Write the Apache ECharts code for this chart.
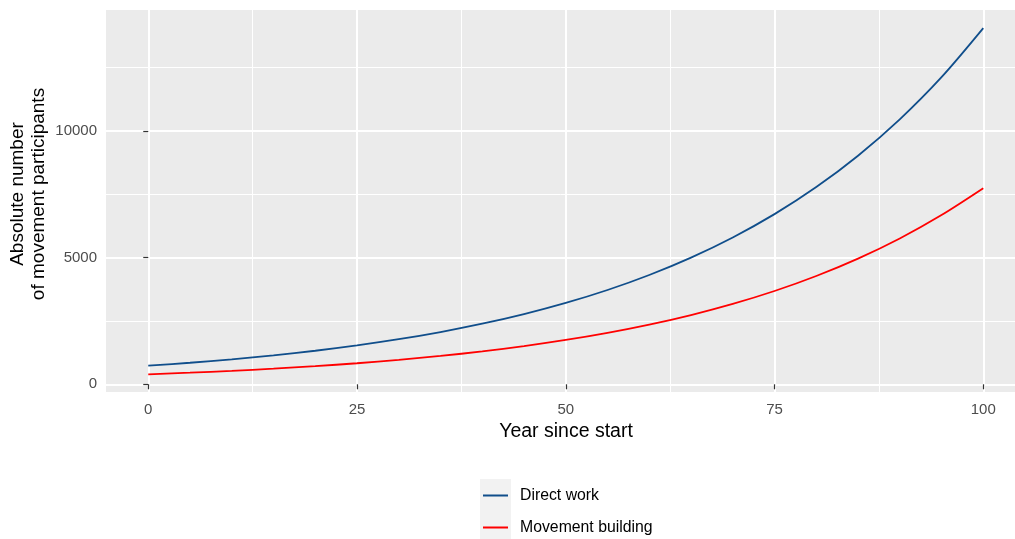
<!DOCTYPE html>
<html>
<head>
<meta charset="utf-8">
<script src="https://cdn.jsdelivr.net/npm/echarts@6/dist/echarts.min.js"></script>
<style>
html,body{margin:0;padding:0;background:#fff;}
#chart{width:1015px;height:539px;}
</style>
</head>
<body>
<div id="chart"></div>
<script>
const years = [0,5,10,15,20,25,30,35,40,45,50,55,60,65,70,75,80,85,90,95,100];
const directWork = [734,851,986,1143,1325,1536,1780,2063,2391,2771,3212,3723,4315,5001,5797,6718,7787,9025,10460,12124,14060];
const movementBuilding = [395,458,532,617,716,831,965,1120,1299,1508,1750,2031,2357,2735,3174,3683,4275,4961,5757,6681,7740];
const xMajorTicks = [0,25,50,75,100];
const xMinorTicks = [12.5,37.5,62.5,87.5];
const yMajorTicks = [0,5000,10000];
const yMinorTicks = [2500,7500,12500];
const seriesNames = ['Direct work','Movement building'];

const FONT = 'Liberation Sans, Arial, Helvetica, sans-serif';
const xRange = {min: -5.06, max: 103.8};
const yRange = {min: -304, max: 14777};

function pairs(xs, ys){ return xs.map((x,i)=>[x, ys[i]]); }
const plain = v => String(v);

const chart = echarts.init(document.getElementById('chart'), null, {renderer:'canvas'});
chart.setOption({
  animation: false,
  textStyle: {fontFamily: FONT},
  grid: {left:106, right:0, top:10, bottom:147, show:true, backgroundColor:'#EBEBEB', borderWidth:0,
         containLabel:false, outerBoundsMode:'none'},
  graphic: [{type:'rect', left:480, top:479, shape:{width:31, height:60}, style:{fill:'#F2F2F2'}, z:-1}],
  legend: {
    orient:'vertical', left:483, top:487, padding:0,
    icon:'rect', itemWidth:25, itemHeight:2, itemGap:15,
    data: seriesNames,
    textStyle:{fontFamily:FONT, fontSize:15.8, lineHeight:17, color:'#000', padding:[0,0,0,7]}
  },
  xAxis: [
    {type:'value', min:xRange.min, max:xRange.max, position:'bottom',
     name:'Year since start', nameLocation:'middle', nameGap:25,
     nameTextStyle:{fontFamily:FONT, fontSize:19.5, color:'#000', padding:[0,0,0,11]},
     axisLine:{show:false},
     axisTick:{show:true, customValues:xMajorTicks, length:5, lineStyle:{color:'#333333', width:1.2}},
     axisLabel:{customValues:xMajorTicks, formatter:plain, margin:10, fontFamily:FONT, fontSize:15, color:'#4D4D4D'},
     splitLine:{show:true, lineStyle:{color:'#FFFFFF', width:2}}},
    {type:'value', min:xRange.min, max:xRange.max, position:'bottom',
     axisLine:{show:false},
     axisTick:{show:false, customValues:xMinorTicks},
     axisLabel:{show:false, customValues:xMinorTicks},
     splitLine:{show:true, lineStyle:{color:'#FFFFFF', width:1}}}
  ],
  yAxis: [
    {type:'value', min:yRange.min, max:yRange.max, position:'left',
     name:'Absolute number\nof movement participants', nameLocation:'middle', nameRotate:90, nameGap:57,
     nameMoveOverlap:false,
     nameTextStyle:{fontFamily:FONT, fontSize:19, color:'#000', lineHeight:21, padding:[0,0,0,14]},
     axisLine:{show:false},
     axisTick:{show:true, customValues:yMajorTicks, length:5, lineStyle:{color:'#333333', width:1.2}},
     axisLabel:{customValues:yMajorTicks, formatter:plain, margin:9, fontFamily:FONT, fontSize:15, color:'#4D4D4D'},
     splitLine:{show:true, lineStyle:{color:'#FFFFFF', width:2}}},
    {type:'value', min:yRange.min, max:yRange.max, position:'left',
     axisLine:{show:false},
     axisTick:{show:false, customValues:yMinorTicks},
     axisLabel:{show:false, customValues:yMinorTicks},
     splitLine:{show:true, lineStyle:{color:'#FFFFFF', width:1}}}
  ],
  series: [
    {name:seriesNames[0], type:'line', xAxisIndex:0, yAxisIndex:0, data:pairs(years, directWork),
     smooth:0.3, symbol:'none', lineStyle:{color:'#104E8B', width:1.8}, itemStyle:{color:'#104E8B'}},
    {name:seriesNames[1], type:'line', xAxisIndex:0, yAxisIndex:0, data:pairs(years, movementBuilding),
     smooth:0.3, symbol:'none', lineStyle:{color:'#FF0000', width:1.8}, itemStyle:{color:'#FF0000'}}
  ]
});
</script>
</body>
</html>
